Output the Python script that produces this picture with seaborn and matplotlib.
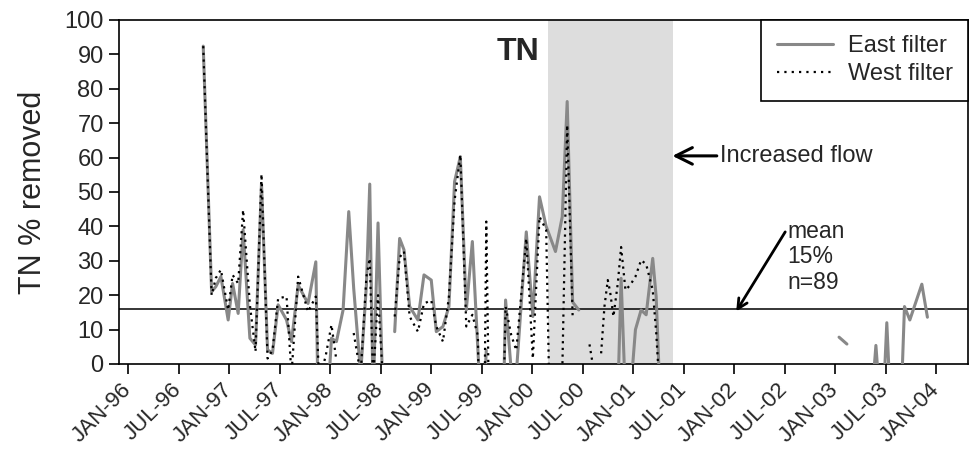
import numpy as np
import pandas as pd
import matplotlib
matplotlib.use("Agg")
import matplotlib.pyplot as plt
from matplotlib.lines import Line2D
import seaborn as sns

# ---- data (decimal years) ----
years = [1996.742, 1996.825, 1996.867, 1996.917, 1996.989, 1997.033, 1997.088, 1997.137,
         1997.204, 1997.260, 1997.319, 1997.379, 1997.428, 1997.484, 1997.567, 1997.616,
         1997.682, 1997.780, 1997.857, 1997.889, 1997.955, 1998.012, 1998.061, 1998.127,
         1998.183, 1998.232, 1998.301, 1998.358, 1998.391, 1998.424, 1998.473, 1998.522,
         1998.580, 1998.638, 1998.687, 1998.730, 1998.786, 1998.868, 1998.928, 1999.000,
         1999.050, 1999.116, 1999.175, 1999.231, 1999.288, 1999.347, 1999.407, 1999.462,
         1999.505, 1999.545, 1999.604, 1999.660, 1999.709, 1999.736, 1999.792, 1999.842,
         1999.941, 2000.006, 2000.072, 2000.138, 2000.230, 2000.297, 2000.346, 2000.400,
         2000.461, 2000.515, 2000.567, 2000.593, 2000.640, 2000.682, 2000.715, 2000.748,
         2000.771, 2000.804, 2000.847, 2000.880, 2000.923, 2000.969, 2001.022, 2001.078,
         2001.128, 2001.193, 2001.227, 2001.266, 2001.500, 2003.038, 2003.116, 2003.200,
         2003.376, 2003.403, 2003.429, 2003.485, 2003.511, 2003.537, 2003.660, 2003.686,
         2003.739, 2003.858, 2003.913]
nan = np.nan
east = [92.4, 21, 22.5, 25.4, 12.8, 23.4, 14.7, 39,
        7.5, 5.5, 52.5, 4.1, 3.1, 17.2, 12.8, 6.5,
        22.9, 17.6, 29.7, -30, -20, 7.5, 6.5, 15.7,
        44.3, 22, -3, 23, 52.3, -10, 41, -10,
        nan, 9.4, 36.5, 33.2, 16.7, 12.8, 25.9, 24.4,
        9.4, 10.9, 16.7, 53, 60.3, 15.7, 35.6, 4,
        -20, 4, nan, nan, -20, 18.6, -2, -3,
        38.4, 13.8, 48.6, 40, 32.7, 42.8, 76.3, 18,
        15.7, nan, nan, nan, nan, nan, nan, nan,
        nan, nan, -10, 24.9, -10, -10, 10, 15.7,
        14.3, 30.7, 19.6, -10, nan, 7.8, 5.8, nan,
        -5, 5.4, -5, -5, 12, -5, -5, 16.7,
        12.8, 23.2, 13.6]
west = [92.4, 20, 25, 27.4, 15.7, 25.9, 23.4, 44.8,
        17.2, 3.6, 55.2, 1.6, 4, 19.1, 19.6, -3,
        25.4, 15.2, 19.6, -5, 2.4, 11.4, 1, nan,
        nan, 9, -3, 25.4, 30.7, -5, 20, -5,
        nan, 13.8, 31, 32.7, 13.8, 9.4, 17.6, 18.5,
        10.9, 6.5, 19.6, 47.5, 60.8, 10.9, 14.3, 8.2,
        -80, 41.4, -80, nan, -20, 16.7, 8.4, 4,
        36.5, 1.6, 42.8, 39, -100, -3, 69.5, 13.8,
        nan, nan, 5.7, 1, nan, 3.1, 16.7, 24.4,
        21, 13.8, 23.4, 34, 21.5, 22.9, 25.4, 30.2,
        29, 21.5, 9.4, -10, nan, nan, nan, nan,
        nan, nan, nan, nan, nan, nan, nan, nan,
        nan, nan, nan]
series_names = ["East filter", "West filter"]
tick_years = [1996 + 0.5 * k for k in range(17)]
tick_labels = ["JAN-96", "JUL-96", "JAN-97", "JUL-97", "JAN-98", "JUL-98", "JAN-99",
               "JUL-99", "JAN-00", "JUL-00", "JAN-01", "JUL-01", "JAN-02", "JUL-02",
               "JAN-03", "JUL-03", "JAN-04"]
mean_value = 16
flow_period = (2000.16, 2001.397)

# ---- style ----
sns.set_style("ticks")
plt.rcParams["font.family"] = ["Liberation Sans", "DejaVu Sans"]

fig = plt.figure(figsize=(9.7, 4.49), dpi=100)
ax = fig.add_axes([119 / 970, 1 - 364 / 449, (968 - 119) / 970, (364 - 20) / 449])


def make_df(vals, name):
    v = np.array(vals, dtype=float)
    seg = np.cumsum(np.isnan(v))
    return pd.DataFrame({"year": years, "value": v, "series": name, "seg": seg}).dropna()


df_e = make_df(east, series_names[0])
df_w = make_df(west, series_names[1])

ax.axvspan(flow_period[0], flow_period[1], color="#dddddd", lw=0, zorder=0)
ax.axhline(mean_value, color="black", lw=1.1, zorder=1)

sns.lineplot(data=df_e, x="year", y="value", units="seg", estimator=None, sort=False,
             color="#888888", lw=2.2, ax=ax, zorder=3)
sns.lineplot(data=df_w, x="year", y="value", units="seg", estimator=None, sort=False,
             color="black", lw=1.6, linestyle=(0, (1, 2)), ax=ax, zorder=4)

ax.set_xlim(1995.908, 2004.315)
ax.set_ylim(0, 100)
ax.set_yticks(range(0, 101, 10))
ax.set_xticks(tick_years)
ax.set_xticklabels(tick_labels, rotation=45, ha="right", va="center",
                   rotation_mode="anchor", fontsize=16)
ax.tick_params(axis="y", labelsize=17, length=7, width=1.2, color="black", pad=4)
ax.tick_params(axis="x", length=7, width=1.2, color="black", pad=9)
for s in ax.spines.values():
    s.set_visible(True)
    s.set_color("black")
    s.set_linewidth(1.2)
ax.set_xlabel("")
ax.set_ylabel("TN % removed", fontsize=22, labelpad=12)

ax.text(1999.855, 90.7, "TN", fontsize=23, fontweight="bold", ha="center", va="center")

ax.annotate("Increased flow", xy=(2001.388, 60.5), xytext=(2001.86, 60.5),
            fontsize=17, ha="left", va="center",
            arrowprops=dict(arrowstyle="->,head_length=0.7,head_width=0.35", lw=2.2,
                            color="black", shrinkA=0, shrinkB=0))
ax.annotate("", xy=(2002.02, 15.3), xytext=(2002.505, 38.4),
            arrowprops=dict(arrowstyle="->,head_length=0.7,head_width=0.35", lw=2,
                            color="black", shrinkA=0, shrinkB=0))
ax.text(2002.53, 42, "mean\n15%\nn=89", fontsize=16.5, ha="left", va="top", linespacing=1.15)

handles = [Line2D([], [], color="#888888", lw=2.2),
           Line2D([], [], color="black", lw=1.6, linestyle=(0, (1, 2.3)))]
leg = ax.legend(handles, series_names, loc="upper right", bbox_to_anchor=(1, 1),
                borderaxespad=0, frameon=True, fancybox=False, framealpha=1,
                edgecolor="black", fontsize=17, handlelength=2.4, labelspacing=0.25,
                borderpad=0.65, handletextpad=0.6)
leg.get_frame().set_linewidth(1.2)

fig.savefig("out.png", dpi=100)
